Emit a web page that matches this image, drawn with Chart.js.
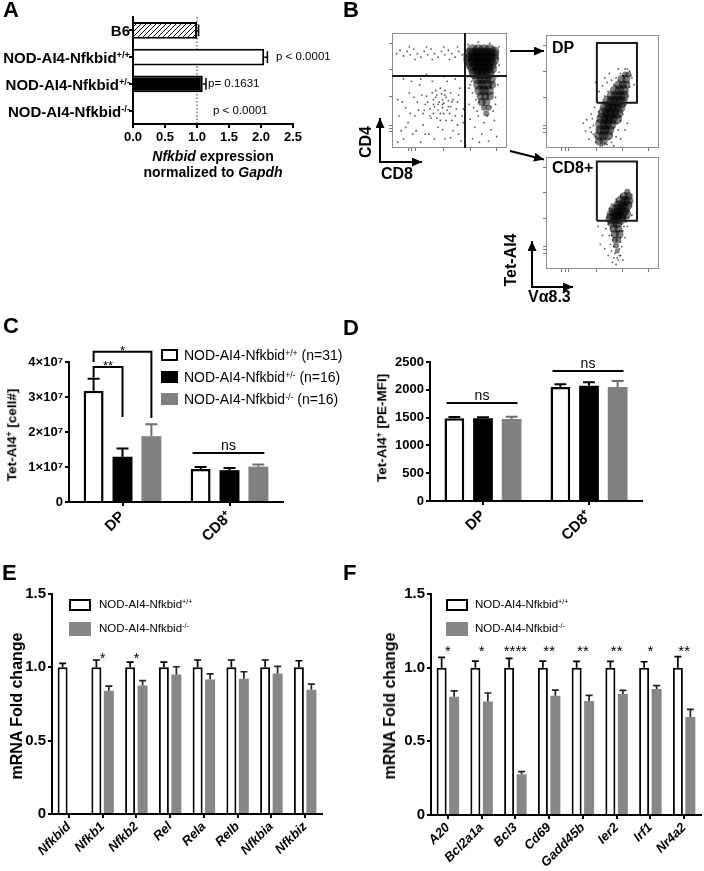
<!DOCTYPE html>
<html><head><meta charset="utf-8">
<script src="https://cdn.jsdelivr.net/npm/chart.js@4/dist/chart.umd.min.js"></script>
<style>
html,body{margin:0;padding:0;background:#fff;}
#wrap{position:relative;width:704px;height:871px;overflow:hidden;font-family:"Liberation Sans",Arial,Helvetica,sans-serif;color:#000;}
canvas{position:absolute;left:0;top:0;}
.t{position:absolute;white-space:nowrap;line-height:1;}
.t sup{font-size:0.62em;vertical-align:baseline;position:relative;top:-0.5em;line-height:0;}
.box{position:absolute;box-sizing:border-box;}
</style></head>
<body><div id="wrap"></div>
<script>
// ---------------- DATA ----------------
// Panel A
const aLabels = ['B6', 'NOD-AI4-Nfkbid+/+', 'NOD-AI4-Nfkbid+/-', 'NOD-AI4-Nfkbid-/-'];
const aValues = [1.0, 2.05, 1.09, 0];
const aErrors = [0.025, 0.05, 0.05, 0];
const aPValues = ['', 'p < 0.0001', 'p= 0.1631', 'p < 0.0001'];
const aRefValue = 1.0;
const aTickValues = [0, 0.5, 1.0, 1.5, 2.0, 2.5];

// Panel B (flow cytometry, % of plot range). dense = [x, y, radius], sparse = [x, y]
const tlDense = [[70,85,6],[75,85,6],[80,85,6],[85,85,6],[89,84,5],
  [68,81,7],[72,81,7],[76,81,7],[80,81,7],[84,81,7],[88,81,6],
  [68,77,7],[72,77,7],[76,77,7],[80,77,7],[84,77,7],[88,77,6],
  [70,73,7],[74,73,7],[78,73,7],[82,73,7],[86,73,6],
  [71,69,6],[75,69,6],[79,69,6],[83,69,6],[87,69,5],
  [72,65,6],[76,65,6],[80,65,6],[84,65,6],
  [74,60,5],[78,60,5],[82,60,5],[86,60,5],
  [75,55,5],[79,55,5],[83,55,5],[87,55,4],
  [76,50,5],[80,50,5],[84,50,5],
  [77,45,4],[81,45,4],[85,45,4],
  [78,40,4],[82,40,4],[80,35,3],[84,35,3],[82,30,3]];
const tlSparse = [[4,82],[7,85],[10,80],[13,84],[16,81],[19,86],[22,82],[25,79],[28,84],[31,81],[34,86],[37,82],[40,79],[43,84],[46,81],[49,85],[52,82],[55,79],[58,84],[61,81],[63,86],[45,88],[30,88],[15,88],[57,88],[20,77],[50,77],[35,77],
  [5,5],[8,15],[6,28],[5,42],[10,8],[14,22],[12,35],[15,48],[18,12],[20,28],[22,40],[25,5],[27,20],[28,33],[30,45],[32,12],[34,26],[36,38],[38,50],[40,18],[42,30],[44,42],[46,8],[47,24],[49,36],[51,48],[53,15],[55,28],[57,40],[59,52],[60,6],[62,22],[62,34],[24,55],[35,58],[48,58],[40,38],[44,35],[38,44],[46,46],[33,34],[50,30],[42,24],[36,30],[52,40],[26,46],[17,58],[10,60],[55,60],[58,12],
  [36,42],[39,46],[41,40],[43,47],[45,39],[47,44],[49,41],[37,36],[40,33],[44,38],[48,33],[51,36],[53,42],[35,48],[42,52],[46,50],[31,40],[29,38],[27,30],[33,28],[39,26],[45,30],[52,24],[56,34],[58,46],[23,33],[19,44],[16,30],[21,15],[29,12],[37,8],[44,16],[51,9],[57,20],[61,28],[12,18],[9,40],[25,60],[30,64],[45,62],
  [68,25],[72,18],[75,28],[78,12],[80,22],[83,28],[86,16],[89,24],[91,10],[70,8],[76,5],[84,6],[88,32],[67,38],[73,42],[90,44],[92,55],[67,52],[69,58],[93,66],[66,90],[75,92],[85,91],[93,88],
  [66,70],[65,80],[92,78],[93,72],[91,62],[66,62],[68,55],[70,48],[71,35],[74,32],[88,48],[90,38],[86,36],[76,40]];
const dpDense = [[47,6,4],[51,6,4],[47,11,5],[51,11,5],[55,11,5],[48,16,5],[52,16,5],[56,16,5],
  [49,21,6],[53,21,6],[57,21,6],[50,26,6],[54,26,6],[58,26,6],[62,26,6],
  [51,31,6],[55,31,6],[59,31,6],[63,31,6],[53,36,6],[57,36,6],[61,36,6],[65,36,6],
  [55,41,6],[59,41,6],[63,41,6],[67,41,6],[58,46,5],[62,46,5],[66,46,5],[69,46,5],
  [61,51,5],[65,51,5],[69,51,5],[64,56,4],[68,56,4],[71,56,4],[67,61,4],[71,61,4],[70,65,3],[73,65,3]];
const dpSparse = [[38,8],[40,14],[42,20],[36,25],[40,30],[43,36],[45,44],[47,50],[50,55],[54,58],[58,60],[62,62],[66,66],[70,70],[74,68],[76,62],[74,54],[72,46],[70,38],[68,30],[66,24],[64,16],[62,10],[58,5],[54,3],[48,2],[44,5],[35,15],[33,22],[46,28],[66,8],[72,22],[76,40],[78,56],[44,58],[52,62],[56,66],[64,70],[70,16],[60,2],
  [44,10],[46,16],[45,24],[47,32],[49,40],[52,46],[55,50],[60,56],[64,60],[68,64],[72,70],[75,64],[73,58],[71,50],[69,42],[67,36],[65,28],[63,22],[60,18],[58,12],[56,8],[52,4],[50,2],[42,12],[41,26],[39,18]];
const cd8Dense = [[72,69,3],[69,65,4],[73,65,4],[66,61,5],[70,61,5],[73,61,5],[64,57,5],[68,57,5],[72,57,5],
  [61,53,6],[65,53,6],[69,53,6],[59,49,6],[63,49,6],[67,49,6],[70,49,6],[58,45,6],[62,45,6],[66,45,6],
  [59,41,5],[63,41,5],[60,36,4],[64,36,4],[61,31,4],[65,31,4],[61,26,3],[64,26,3],[62,21,3],[63,16,2.5]];
const cd8Sparse = [[55,40],[54,46],[56,54],[58,58],[62,62],[66,64],[70,58],[72,52],[74,60],[76,66],[70,46],[67,40],[68,34],[66,28],[67,20],[66,12],[64,8],[62,4],[60,10],[58,16],[57,22],[56,30],[58,34],[53,36],[50,30],[48,22],[52,18],[55,12],[70,28],[72,38],[60,28],[65,34],[59,6],[68,8],[46,38],[76,48],
  [57,36],[56,42],[57,48],[58,52],[60,56],[63,60],[66,66],[70,68],[74,66],[75,56],[73,46],[71,42],[69,38],[67,34],[66,24],[65,18],[65,12],[63,10],[61,14],[60,20],[59,26],[58,30]];
const quadV = [[63.5,0],[63.5,100]];
const quadH = [[0,62.6],[100,62.6]];
const dpGate = [[45,40],[45,93],[80.5,93],[80.5,40],[45,40]];
const cd8Gate = [[45,43],[45,96],[80.5,96],[80.5,43],[45,43]];
const flowTicks = [14,17,20,45,68,91];

// Panel C
const cCategories = ['DP', 'CD8\u207A'];
const cWT = [3.18e7, 0.94e7];   const cWTErr = [0.34e7, 0.06e7];
const cHet = [1.29e7, 0.91e7];  const cHetErr = [0.24e7, 0.06e7];
const cKO = [1.88e7, 1.01e7];   const cKOErr = [0.34e7, 0.06e7];
const cTickValues = [0, 1e7, 2e7, 3e7, 4e7];
const cTickLabels = ['0', '1\u00D710\u2077', '2\u00D710\u2077', '3\u00D710\u2077', '4\u00D710\u2077'];
const cBrackets = [{cat:0, from:0, to:1, y:3.86e7, yFrom:3.56e7, yTo:2.43e7, label:'**'},
                   {cat:0, from:0, to:2, y:4.29e7, yFrom:4.0e7, yTo:2.4e7, label:'*'}];
const cNs = [{cat:1, y:1.4e7, label:'ns'}];

// Panel D
const dCategories = ['DP', 'CD8\u207A'];
const dWT = [1487, 2050];  const dWTErr = [24, 48];
const dHet = [1487, 2074]; const dHetErr = [20, 60];
const dKO = [1475, 2050];  const dKOErr = [42, 108];
const dTickValues = [0, 500, 1000, 1500, 2000, 2500];
const dNs = [{cat:0, y:1763, label:'ns'}, {cat:1, y:2338, label:'ns'}];

// Panel E
const eGenes = ['Nfkbid','Nfkb1','Nfkb2','Rel','Rela','Relb','Nfkbia','Nfkbiz'];
const eWT = [1, 1, 1, 1, 1, 1, 1, 1];
const eWTErr = [0.027, 0.05, 0.035, 0.035, 0.05, 0.05, 0.05, 0.045];
const eKO = [0, 0.84, 0.876, 0.951, 0.917, 0.922, 0.958, 0.847];
const eKOErr = [0, 0.032, 0.034, 0.053, 0.039, 0.048, 0.048, 0.038];
const eStars = ['', '*', '*', '', '', '', '', ''];
const eStarY = 1.09;

// Panel F
const fGenes = ['A20','Bcl2a1a','Bcl3','Cd69','Gadd45b','Ier2','Irf1','Nr4a2'];
const fWT = [1, 1, 1, 1, 1, 1, 1, 1];
const fWTErr = [0.07, 0.045, 0.063, 0.045, 0.043, 0.043, 0.04, 0.075];
const fKO = [0.803, 0.771, 0.276, 0.81, 0.774, 0.821, 0.855, 0.665];
const fKOErr = [0.039, 0.057, 0.018, 0.038, 0.038, 0.025, 0.023, 0.052];
const fStars = ['*', '*', '****', '**', '**', '**', '*', '**'];
const fStarY = 1.14;

const foldTickValues = [0, 0.5, 1.0, 1.5];
const foldTickLabels = ['0', '0.5', '1.0', '1.5'];

// ---------------- SETUP ----------------
const FF = '"Liberation Sans", Arial, Helvetica, sans-serif';
Chart.defaults.font.family = FF;
Chart.defaults.color = '#000';
const W = 704, H = 871;
const wrap = document.getElementById('wrap');

function mk(cfg){
  const c = document.createElement('canvas'); c.width = W; c.height = H; wrap.appendChild(c);
  const o = cfg.options;
  o.responsive = false; o.animation = false; o.devicePixelRatio = 1;
  o.plugins = Object.assign({legend:{display:false}, tooltip:{enabled:false}, title:{display:false}}, o.plugins || {});
  return new Chart(c, cfg);
}
function pad(box, yw, xh){ return {left: box.l - yw, top: box.t, right: W - box.r, bottom: H - box.b - xh}; }
function T(html, x, y, o){
  o = o || {};
  const d = document.createElement('div'); d.className = 't'; d.innerHTML = html;
  d.style.left = x + 'px'; d.style.top = y + 'px';
  d.style.fontSize = (o.s || 14) + 'px'; d.style.fontWeight = (o.w || 700);
  if (o.i) d.style.fontStyle = 'italic';
  const a = o.a || 'l';
  const tx = a === 'l' ? '0' : (a === 'r' ? '-100%' : '-50%');
  d.style.transform = 'translate(' + tx + ',-50%)' + (o.rot ? ' rotate(' + o.rot + 'deg)' : '');
  wrap.appendChild(d); return d;
}
function B(x, y, w, h, bg, border){
  const d = document.createElement('div'); d.className = 'box';
  d.style.left = x + 'px'; d.style.top = y + 'px'; d.style.width = w + 'px'; d.style.height = h + 'px';
  d.style.background = bg; if (border) d.style.border = border;
  wrap.appendChild(d);
}
function supLabel(s){ return s.replace(/(\+\/\+|\+\/-|-\/-)/, '<sup>$1</sup>'); }

const errorBars = { id:'errorBars', afterDatasetsDraw(chart){
  const ctx = chart.ctx, horiz = chart.options.indexAxis === 'y';
  const vs = horiz ? chart.scales.x : chart.scales.y;
  chart.data.datasets.forEach((ds, i) => {
    if (!ds.errors) return;
    const meta = chart.getDatasetMeta(i);
    meta.data.forEach((el, j) => {
      const v = ds.data[j], e = ds.errors[j]; if (!e) return;
      const p = vs.getPixelForValue(v + e);
      const pr = el.getProps(['x','y','width','height'], true);
      ctx.save(); ctx.strokeStyle = ds.errorColor || '#000'; ctx.lineWidth = ds.errorWidth || 2;
      ctx.beginPath();
      if (horiz) { const hc = pr.height * 0.36; ctx.moveTo(pr.x, pr.y); ctx.lineTo(p, pr.y); ctx.moveTo(p, pr.y - hc); ctx.lineTo(p, pr.y + hc); }
      else { const hc = pr.width * 0.25 + 1; ctx.moveTo(pr.x, pr.y); ctx.lineTo(pr.x, p); ctx.moveTo(pr.x - hc, p); ctx.lineTo(pr.x + hc, p); }
      ctx.stroke(); ctx.restore();
    });
  });
}};

const annot = { id:'annot', afterDatasetsDraw(chart, args, opts){
  const ctx = chart.ctx, ys = chart.scales.y, xs = chart.scales.x;
  ctx.save(); ctx.strokeStyle = '#000'; ctx.fillStyle = '#000'; ctx.lineWidth = 2; ctx.textAlign = 'center'; ctx.textBaseline = 'alphabetic';
  (opts.brackets || []).forEach(b => {
    const x1 = chart.getDatasetMeta(b.from).data[b.cat].x, x2 = chart.getDatasetMeta(b.to).data[b.cat].x;
    const y = ys.getPixelForValue(b.y), y1 = ys.getPixelForValue(b.yFrom), y2 = ys.getPixelForValue(b.yTo);
    ctx.beginPath(); ctx.moveTo(x1, y1); ctx.lineTo(x1, y); ctx.lineTo(x2, y); ctx.lineTo(x2, y2); ctx.stroke();
    ctx.font = '13px ' + FF; ctx.fillText(b.label, (x1 + x2) / 2, y - 4 + 0.57 * 13);
  });
  (opts.ns || []).forEach(n => {
    const a = chart.getDatasetMeta(0).data[n.cat], z = chart.getDatasetMeta(chart.data.datasets.length - 1).data[n.cat];
    const xa = a.x - a.width / 2 + 2, xb = z.x + z.width / 2 - 4, y = ys.getPixelForValue(n.y);
    ctx.beginPath(); ctx.moveTo(xa, y); ctx.lineTo(xb, y); ctx.stroke();
    ctx.font = '14px ' + FF; ctx.fillText(n.label, (xa + xb) / 2, y - 3);
  });
  if (opts.stars) {
    const y = ys.getPixelForValue(opts.starY);
    ctx.font = '15px ' + FF;
    opts.stars.forEach((s, i) => { if (s) ctx.fillText(s, xs.getPixelForTick(i), y + 0.57 * 15); });
  }
  ctx.restore();
}};

const refLine = { id:'refLine', beforeDatasetsDraw(chart, args, opts){
  const ctx = chart.ctx, x = chart.scales.x.getPixelForValue(opts.value), ca = chart.chartArea;
  ctx.save(); ctx.strokeStyle = '#333'; ctx.lineWidth = 1; ctx.setLineDash([1.5, 2]);
  ctx.beginPath(); ctx.moveTo(x, ca.top); ctx.lineTo(x, ca.bottom); ctx.stroke(); ctx.restore();
}};
const frame = { id:'frame', beforeDatasetsDraw(chart){
  const ctx = chart.ctx, ca = chart.chartArea;
  ctx.save(); ctx.strokeStyle = '#8c8c8c'; ctx.lineWidth = 1;
  ctx.strokeRect(ca.left + 0.5, ca.top + 0.5, ca.right - ca.left - 1, ca.bottom - ca.top - 1); ctx.restore();
}};

function axisY(yw, ticks, extra){
  return Object.assign({
    afterFit: s => { s.width = yw; },
    border: {display:true, color:'#000', width:2},
    grid: {display:true, drawOnChartArea:false, drawTicks:true, tickLength:4, color:'#000', lineWidth:2, offset:false},
    ticks: ticks
  }, extra || {});
}
function axisX(xh, ticks, extra){
  return Object.assign({
    afterFit: s => { s.height = xh; },
    border: {display:true, color:'#000', width:2},
    grid: {display:true, drawOnChartArea:false, drawTicks:true, tickLength:4, color:'#000', lineWidth:2, offset:false},
    ticks: ticks
  }, extra || {});
}

// ---------------- PANEL A ----------------
const hp = document.createElement('canvas'); hp.width = hp.height = 5;
const hg = hp.getContext('2d'); hg.fillStyle = '#fff'; hg.fillRect(0,0,5,5);
hg.strokeStyle = '#000'; hg.lineWidth = 1; hg.beginPath();
hg.moveTo(0,5); hg.lineTo(5,0); hg.moveTo(-1,1); hg.lineTo(1,-1); hg.moveTo(4,6); hg.lineTo(6,4); hg.stroke();
const hatch = hg.createPattern(hp, 'repeat');

const boxA = {l:133, t:17, r:293, b:124};
const chartA = mk({type:'bar',
  data:{labels:aLabels, datasets:[{data:aValues, errors:aErrors, errorWidth:1.5,
    backgroundColor:[hatch, '#fff', '#000', '#fff'], borderColor:'#000', borderWidth:2, borderSkipped:'start',
    barPercentage:0.62, categoryPercentage:1}]},
  options:{indexAxis:'y', layout:{padding:pad(boxA, 30, 30)}, plugins:{refLine:{value:aRefValue}},
    scales:{
      x: axisX(30, {padding:2, font:{size:13, weight:'bold'}, callback:v => Number(v).toFixed(1)},
        {type:'linear', min:0, max:2.5, afterBuildTicks: s => { s.ticks = aTickValues.map(v => ({value:v})); }}),
      y: axisY(30, {color:'rgba(0,0,0,0)'})
    }},
  plugins:[errorBars, refLine]});
aLabels.forEach((l, i) => T(supLabel(l), 130, chartA.scales.y.getPixelForTick(i), {s:15, a:'r'}));
const aPX = [0, 276, 208, 213];
aPValues.forEach((p, i) => { if (p) T(p, aPX[i], chartA.scales.y.getPixelForTick(i), {s:11.5, w:400}); });
T('<i>Nfkbid</i> expression', 213, 156, {s:14, a:'c'});
T('normalized to <i>Gapdh</i>', 213, 172, {s:14, a:'c'});

// ---------------- PANEL B ----------------
function flowChart(box, dense, sparse, lines){
  const ds = [];
  lines.forEach(l => ds.push({type:'line', data:l.map(p => ({x:p[0], y:p[1]})), borderColor:'#1a1a1a', borderWidth:2, pointRadius:0, fill:false, tension:0, order:0}));
  ds.push({type:'bubble', data:sparse.map(p => ({x:p[0], y:p[1], r:0.9})), backgroundColor:'rgba(0,0,0,0.65)', borderWidth:0, order:1});
  ds.push({type:'bubble', data:dense.map(p => ({x:p[0], y:p[1], r:p[2]})), backgroundColor:'rgba(0,0,0,0.5)', borderWidth:0, order:2});
  const fticks = {display:false};
  const fgrid = {display:true, drawOnChartArea:false, drawTicks:true, tickLength:3, color:'#777', lineWidth:1};
  return mk({type:'bubble', data:{datasets:ds},
    options:{layout:{padding:pad(box, 4, 4)},
      scales:{
        x:{type:'linear', min:0, max:100, afterFit: s => { s.height = 4; }, border:{display:false}, grid:fgrid, ticks:fticks,
           afterBuildTicks: s => { s.ticks = flowTicks.map(v => ({value:v})); }},
        y:{type:'linear', min:0, max:100, afterFit: s => { s.width = 4; }, border:{display:false}, grid:fgrid, ticks:fticks,
           afterBuildTicks: s => { s.ticks = flowTicks.map(v => ({value:v})); }}
      }},
    plugins:[frame]});
}
flowChart({l:392, t:33, r:507, b:148}, tlDense, tlSparse, [quadV, quadH]);
flowChart({l:546, t:35, r:659, b:148}, dpDense, dpSparse, [dpGate]);
flowChart({l:546, t:157, r:659, b:269}, cd8Dense, cd8Sparse, [cd8Gate]);
T('DP', 552, 48, {s:16});
T('CD8+', 552, 168, {s:16});
T('CD4', 366, 142, {s:16, a:'c', rot:-90});
T('CD8', 381, 174, {s:16});
T('Tet-AI4', 511, 260, {s:16, a:'c', rot:-90});
T('V\u03B18.3', 528, 297, {s:16});

// ---------------- PANEL C / D ----------------
function groupedBars(box, cats, sets, yMax, tickVals, tickLabels, yw, opts){
  const mkSet = (d, e, kind) => ({data:d, errors:e,
    backgroundColor: kind === 0 ? '#fff' : (kind === 1 ? '#000' : '#808080'),
    borderColor: kind === 2 ? '#808080' : '#000', borderWidth: kind === 0 ? 2.5 : 0, borderSkipped:'start',
    errorColor: kind === 2 ? '#6e6e6e' : '#000', errorWidth:2,
    barPercentage:0.69, categoryPercentage:0.81});
  return mk({type:'bar',
    data:{labels:cats, datasets:sets.map((s, k) => mkSet(s[0], s[1], k))},
    options:{layout:{padding:pad(box, yw, 60)}, plugins:{annot:opts},
      scales:{
        x: axisX(60, {padding:2, minRotation:45, maxRotation:45, font:{size:15, weight:'bold'}}),
        y: axisY(yw, {padding:2, font:{size:13, weight:'bold'}, callback:(v, i) => tickLabels[i]},
           {type:'linear', min:0, max:yMax, afterBuildTicks: s => { s.ticks = tickVals.map(v => ({value:v})); }})
      }},
    plugins:[errorBars, annot]});
}
groupedBars({l:69, t:362, r:283, b:502}, cCategories, [[cWT, cWTErr], [cHet, cHetErr], [cKO, cKOErr]],
  4e7, cTickValues, cTickLabels, 60, {brackets:cBrackets, ns:cNs});
groupedBars({l:430, t:362, r:642, b:501}, dCategories, [[dWT, dWTErr], [dHet, dHetErr], [dKO, dKOErr]],
  2500, dTickValues, dTickValues.map(String), 50, {ns:dNs});
T('Tet-AI4<sup>+</sup> [cell#]', 12, 435, {s:13.5, a:'c', rot:-90});
T('Tet-AI4<sup>+</sup> [PE-MFI]', 382, 428, {s:13.5, a:'c', rot:-90});
B(161, 349, 17, 12, '#fff', '2.5px solid #000');
B(161, 371, 17, 12, '#000');
B(161, 393, 17, 12, '#808080');
T('NOD-AI4-Nfkbid<sup>+/+</sup> (n=31)', 184, 355, {s:14, w:400});
T('NOD-AI4-Nfkbid<sup>+/-</sup> (n=16)', 184, 377, {s:14, w:400});
T('NOD-AI4-Nfkbid<sup>-/-</sup> (n=16)', 184, 399, {s:14, w:400});

// ---------------- PANEL E / F ----------------
function foldBars(box, genes, wt, wtErr, ko, koErr, stars, starY){
  return mk({type:'bar',
    data:{labels:genes, datasets:[
      {data:wt, errors:wtErr, backgroundColor:'#fff', borderColor:'#000', borderWidth:2, borderSkipped:'start', errorColor:'#000', errorWidth:1.7, barPercentage:0.8, categoryPercentage:0.74},
      {data:ko, errors:koErr, backgroundColor:'#878787', borderColor:'#878787', borderWidth:0, borderSkipped:'start', errorColor:'#222', errorWidth:1.7, barPercentage:0.8, categoryPercentage:0.74}]},
    options:{layout:{padding:pad(box, 45, 60)}, plugins:{annot:{stars:stars, starY:starY}},
      scales:{
        x: axisX(60, {padding:1, minRotation:45, maxRotation:45, font:{size:13, weight:'bold', style:'italic'}}),
        y: axisY(45, {padding:2, font:{size:15, weight:'bold'}, callback:(v, i) => foldTickLabels[i]},
           {type:'linear', min:0, max:1.5, afterBuildTicks: s => { s.ticks = foldTickValues.map(v => ({value:v})); }})
      }},
    plugins:[errorBars, annot]});
}
foldBars({l:52, t:594, r:322, b:814}, eGenes, eWT, eWTErr, eKO, eKOErr, eStars, eStarY);
foldBars({l:431, t:594, r:701, b:815}, fGenes, fWT, fWTErr, fKO, fKOErr, fStars, fStarY);
T('mRNA Fold change', 17, 706, {s:16, a:'c', rot:-90});
T('mRNA Fold change', 390, 706, {s:16, a:'c', rot:-90});
B(69, 599, 22, 12, '#fff', '2.5px solid #000');
B(69, 622, 22, 14, '#878787');
T('NOD-AI4-Nfkbid<sup>+/+</sup>', 99, 605, {s:11.5, w:400});
T('NOD-AI4-Nfkbid<sup>-/-</sup>', 99, 629, {s:11.5, w:400});
B(446, 599, 22, 12, '#fff', '2.5px solid #000');
B(446, 622, 22, 14, '#878787');
T('NOD-AI4-Nfkbid<sup>+/+</sup>', 475, 605, {s:11.5, w:400});
T('NOD-AI4-Nfkbid<sup>-/-</sup>', 475, 629, {s:11.5, w:400});

// ---------------- PANEL LETTERS ----------------
T('A', 3, 10, {s:22}); T('B', 343, 10, {s:22});
T('C', 3, 326, {s:22}); T('D', 343, 328, {s:22});
T('E', 2, 573, {s:22}); T('F', 343, 573, {s:22});

// ---------------- ARROWS ----------------
const svgNS = 'http://www.w3.org/2000/svg';
const svg = document.createElementNS(svgNS, 'svg');
svg.setAttribute('width', W); svg.setAttribute('height', H);
svg.style.position = 'absolute'; svg.style.left = '0'; svg.style.top = '0';
svg.innerHTML = '<defs><marker id="ah" markerWidth="10" markerHeight="9" refX="10" refY="4.5" orient="auto" markerUnits="userSpaceOnUse"><path d="M0,0 L10,4.5 L0,9 z" fill="#000"/></marker></defs>';
[[380,162,380,118],[379,162,422,162],[510,51,544,51],[510,151,544,159.5],[532,287,532,241],[531,287,573,287]].forEach(a => {
  const l = document.createElementNS(svgNS, 'line');
  l.setAttribute('x1', a[0]); l.setAttribute('y1', a[1]); l.setAttribute('x2', a[2]); l.setAttribute('y2', a[3]);
  l.setAttribute('stroke', '#000'); l.setAttribute('stroke-width', '2'); l.setAttribute('marker-end', 'url(#ah)');
  svg.appendChild(l);
});
wrap.appendChild(svg);
</script>
</body></html>
